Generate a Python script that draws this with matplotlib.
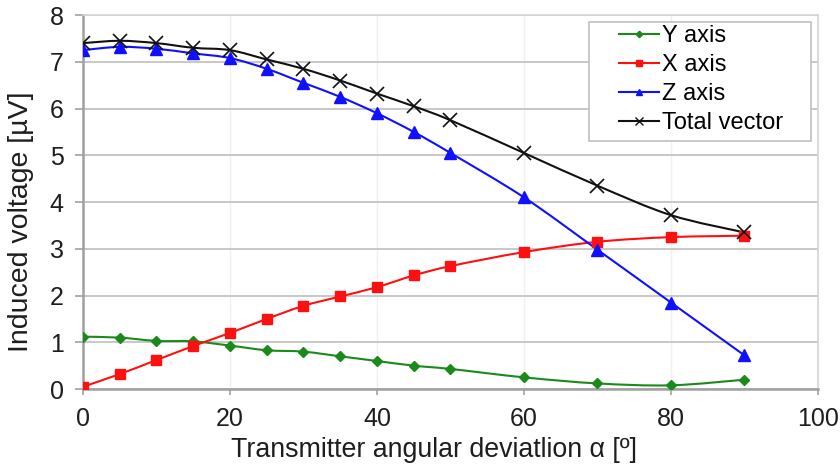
import matplotlib
matplotlib.use("Agg")
import matplotlib.pyplot as plt
from matplotlib.path import Path
from matplotlib.patches import PathPatch, Rectangle
from matplotlib.lines import Line2D

plt.rcParams['font.family'] = ['Liberation Sans', 'DejaVu Sans']

angle = [0, 5, 10, 15, 20, 25, 30, 35, 40, 45, 50, 60, 70, 80, 90]
y_axis = [1.12, 1.10, 1.03, 1.02, 0.93, 0.83, 0.80, 0.70, 0.60, 0.50, 0.43, 0.25, 0.12, 0.08, 0.20]
x_axis = [0.05, 0.32, 0.62, 0.92, 1.20, 1.50, 1.78, 1.98, 2.18, 2.43, 2.63, 2.93, 3.15, 3.25, 3.28]
z_axis = [7.25, 7.32, 7.28, 7.18, 7.08, 6.85, 6.55, 6.25, 5.90, 5.50, 5.05, 4.10, 2.98, 1.85, 0.72]
total = [7.40, 7.45, 7.40, 7.30, 7.25, 7.05, 6.85, 6.60, 6.32, 6.05, 5.75, 5.05, 4.35, 3.72, 3.35]

series = [
    ('Y axis', y_axis, '#1a8a1a', 'D', 5.5),
    ('X axis', x_axis, '#ff1010', 's', 7),
    ('Z axis', z_axis, '#1010ff', '^', 8),
    ('Total vector', total, '#111111', 'x', 10),
]


def smooth_path(xs, ys, tension=1.0 / 6.0):
    """Cubic Bezier path through the points, spreadsheet-style smoothing."""
    n = len(xs)
    verts = [(xs[0], ys[0])]
    codes = [Path.MOVETO]
    for i in range(n - 1):
        x0, y0 = (xs[i - 1], ys[i - 1]) if i > 0 else (xs[i], ys[i])
        x1, y1 = xs[i], ys[i]
        x2, y2 = xs[i + 1], ys[i + 1]
        x3, y3 = (xs[i + 2], ys[i + 2]) if i + 2 < n else (x2, y2)
        c1 = (x1 + (x2 - x0) * tension, y1 + (y2 - y0) * tension)
        c2 = (x2 - (x3 - x1) * tension, y2 - (y3 - y1) * tension)
        verts += [c1, c2, (x2, y2)]
        codes += [Path.CURVE4] * 3
    return Path(verts, codes)


fig = plt.figure(figsize=(8.4, 4.71), dpi=100)
ax = fig.add_axes([0.0988, 0.174, 0.875, 0.794])

handles = []
for label, vals, color, mk, ms in series:
    ax.add_patch(PathPatch(smooth_path(angle, vals), facecolor='none',
                           edgecolor=color, lw=1.5, zorder=3))
    ax.plot(angle, vals, linestyle='none', color=color, marker=mk,
            markersize=ms, mew=1.2 if mk == 'x' else 1.0, zorder=4)
    handles.append(Line2D([], [], color=color, lw=1.5, marker=mk,
                          markersize=ms * 0.6, mew=1.0, label=label))

ax.set_xlim(0, 100)
ax.set_ylim(0, 8)
ax.set_xticks(range(0, 101, 20))
ax.set_yticks(range(0, 9))
ax.yaxis.grid(True, color='#c4c4c4', lw=1.3)
ax.xaxis.grid(True, color='#f0f0f0', lw=1.0)
ax.set_axisbelow(True)

for side in ['top', 'right']:
    ax.spines[side].set_color('#d4d4d4')
    ax.spines[side].set_linewidth(1.2)
for side in ['left', 'bottom']:
    ax.spines[side].set_color('#a0a0a0')
    ax.spines[side].set_linewidth(1.8)

ax.tick_params(axis='both', labelsize=18, colors='#a8a8a8', labelcolor='#1e1e1e', width=1.3)
ax.tick_params(axis='y', length=6, pad=8)
ax.tick_params(axis='x', length=4, pad=9)

ax.set_xlabel('Transmitter angular deviatlion α [º]', fontsize=19.3, color='#1e1e1e')
ax.set_ylabel('Induced voltage [µV]', fontsize=20.5, color='#1e1e1e')
ax.xaxis.set_label_coords(0.477, -0.128)
ax.yaxis.set_label_coords(-0.0667, 0.447)

# legend frame drawn separately so the entries can sit inset from its left edge
ax.add_patch(Rectangle((0.688, 0.663), 0.302, 0.318, transform=ax.transAxes,
                       facecolor='white', edgecolor='#c0c0c0', lw=1.2, zorder=5))
leg = ax.legend(handles=handles, loc='upper left', bbox_to_anchor=(0.729, 0.973),
                fontsize=17, frameon=False, handlelength=1.7, borderpad=0.0,
                borderaxespad=0.0, labelspacing=0.3, handletextpad=0.15)
leg.set_zorder(6)

fig.savefig('out.png', dpi=100)
